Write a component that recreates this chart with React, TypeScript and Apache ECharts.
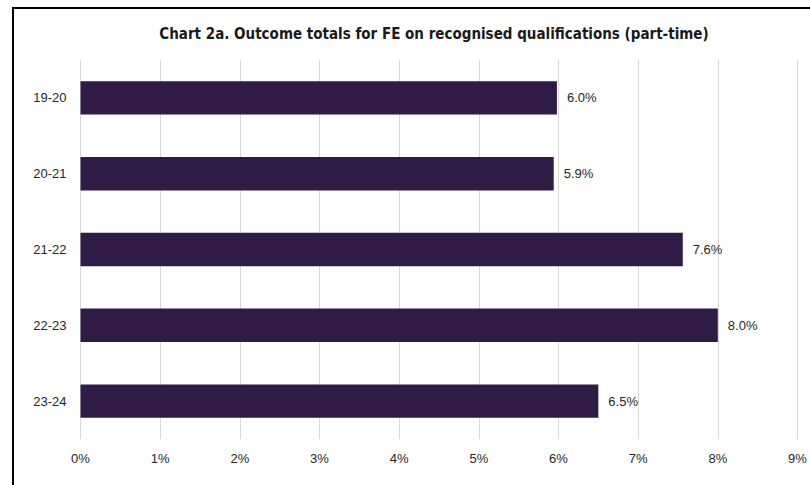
import React, { useEffect, useRef } from "react";
import * as echarts from "echarts";

const categories = ["19-20", "20-21", "21-22", "22-23", "23-24"];
const values = [5.98, 5.94, 7.56, 8.0, 6.5];
const titleText = "Chart 2a. Outcome totals for FE on recognised qualifications (part-time)";

export default function App() {
  const ref = useRef<HTMLDivElement>(null);
  useEffect(() => {
    if (!ref.current) return;
    const chart = echarts.init(ref.current, null, { renderer: "svg" });
    chart.setOption({
      animation: false,
      backgroundColor: "#ffffff",
      title: {
        text: titleText,
        left: 429,
        textAlign: "center",
        top: 21,
        textStyle: {
          fontFamily: "'Liberation Sans Narrow', 'DejaVu Sans Condensed', sans-serif",
          fontWeight: "bold",
          fontSize: 15,
          color: "#1a1a1a",
        },
      },
      graphic: [
        {
          type: "rect",
          shape: { x: 13, y: 8, width: 900, height: 600 },
          style: { fill: "none", stroke: "#000000", lineWidth: 2 },
          silent: true,
        },
      ],
      grid: { left: 80.5, right: 12.5, top: 60, bottom: 46 },
      xAxis: {
        type: "value",
        min: 0,
        max: 9,
        interval: 1,
        axisLine: { show: false },
        axisTick: { show: false },
        splitLine: { show: true, lineStyle: { color: "#d9d9d9", width: 1 } },
        axisLabel: {
          formatter: (v: number) => `${v}%`,
          fontFamily: "'Liberation Sans', Arial, sans-serif",
          fontSize: 13,
          color: "#262626",
          margin: 13,
        },
      },
      yAxis: {
        type: "category",
        data: categories,
        inverse: true,
        axisLine: { show: false },
        axisTick: { show: false },
        axisLabel: {
          fontFamily: "'Liberation Sans', Arial, sans-serif",
          fontSize: 13,
          color: "#262626",
          margin: 14,
        },
      },
      series: [
        {
          type: "bar",
          data: values,
          barCategoryGap: "56%",
          itemStyle: { color: "#301b46" },
          label: {
            show: true,
            position: "right",
            distance: 10,
            formatter: (p: any) => `${p.value.toFixed(1)}%`,
            fontFamily: "'Liberation Sans', Arial, sans-serif",
            fontSize: 13,
            color: "#262626",
          },
        },
      ],
    });
    return () => chart.dispose();
  }, []);
  return (
    <div
      ref={ref}
      style={{ position: "fixed", left: 0, top: 0, width: 810, height: 485 }}
    />
  );
}
